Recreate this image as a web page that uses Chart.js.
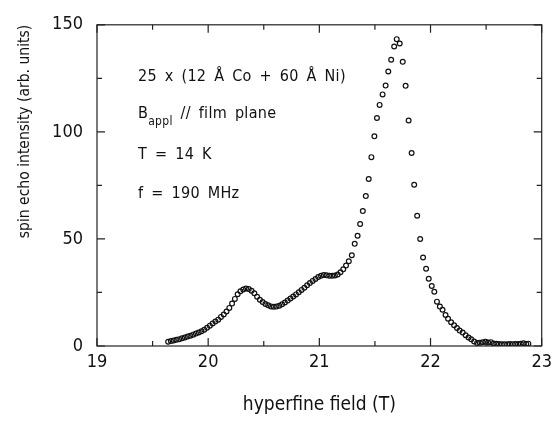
<!DOCTYPE html>
<html>
<head>
<meta charset="utf-8">
<script src="https://cdn.jsdelivr.net/npm/chart.js@4.4.1/dist/chart.umd.min.js"></script>
<style>
  html, body { margin: 0; padding: 0; background: #fff; }
  #wrap { width: 558px; height: 422px; }
</style>
</head>
<body>
<div id="wrap"><canvas id="nmrChart"></canvas></div>
<script>
// hyperfine field (T)
const field = [
  19.640, 19.665, 19.690, 19.715, 19.740, 19.765, 19.790, 19.815, 19.840, 19.865,
  19.890, 19.915, 19.940, 19.965, 19.990, 20.015, 20.040, 20.065, 20.090, 20.115,
  20.140, 20.165, 20.190, 20.215, 20.240, 20.265, 20.290, 20.315, 20.340, 20.365,
  20.390, 20.415, 20.440, 20.465, 20.490, 20.515, 20.540, 20.565, 20.590, 20.615,
  20.640, 20.665, 20.690, 20.715, 20.740, 20.765, 20.790, 20.815, 20.840, 20.865,
  20.890, 20.915, 20.940, 20.965, 20.990, 21.015, 21.040, 21.065, 21.090, 21.115,
  21.140, 21.165, 21.190, 21.215, 21.240, 21.265, 21.292, 21.318, 21.344, 21.367,
  21.391, 21.418, 21.444, 21.468, 21.495, 21.518, 21.542, 21.569, 21.596, 21.620,
  21.646, 21.673, 21.696, 21.723, 21.750, 21.776, 21.803, 21.830, 21.853, 21.880,
  21.907, 21.933, 21.960, 21.984, 22.011, 22.034, 22.058, 22.084, 22.108, 22.135,
  22.158, 22.185, 22.212, 22.238, 22.262, 22.289, 22.316, 22.342, 22.366, 22.392,
  22.419, 22.444, 22.469, 22.494, 22.518, 22.543, 22.567, 22.592, 22.616, 22.641,
  22.665, 22.690, 22.714, 22.739, 22.763, 22.788, 22.812, 22.837, 22.861, 22.880
];
// spin echo intensity (arb. units)
const intensity = [
  2.0, 2.3, 2.6, 2.9, 3.2, 3.6, 4.0, 4.4, 4.8, 5.3,
  5.8, 6.3, 6.9, 7.6, 8.5, 9.5, 10.5, 11.4, 12.3, 13.6,
  14.7, 16.1, 17.8, 19.8, 22.0, 24.2, 25.6, 26.4, 26.8, 26.6,
  25.8, 24.6, 23.0, 21.6, 20.5, 19.6, 19.0, 18.5, 18.3, 18.4,
  18.8, 19.5, 20.3, 21.2, 22.2, 23.1, 24.1, 25.1, 26.2, 27.2,
  28.4, 29.4, 30.4, 31.3, 32.2, 32.8, 33.1, 33.0, 32.8, 32.8,
  32.9, 33.4, 34.4, 35.8, 37.6, 39.6, 42.4, 47.7, 51.5, 57.0,
  63.0, 70.0, 78.0, 88.2, 97.9, 106.5, 112.6, 117.5, 121.6, 128.2,
  133.7, 139.9, 143.3, 141.3, 132.7, 121.5, 105.3, 90.1, 75.3, 60.8,
  50.0, 41.3, 36.1, 31.4, 28.0, 25.3, 20.7, 18.4, 16.9, 14.5,
  12.7, 11.1, 9.7, 8.4, 7.2, 6.3, 5.0, 4.0, 3.1, 2.1,
  1.4, 1.5, 1.7, 2.0, 1.6, 1.8, 1.2, 1.0, 0.9, 0.8,
  0.8, 0.8, 0.9, 0.8, 0.9, 0.9, 1.0, 1.3, 0.9, 1.1
];

const xMajor = [19, 20, 21, 22, 23];
const xMinor = [19.5, 20.5, 21.5, 22.5];
const yMajor = [0, 50, 100, 150];
const yMinor = [25, 75, 125];

const notes = [
  { text: '25 x (12 Å Co + 60 Å Ni)' },
  { text: 'B', sub: 'appl', rest: ' // film plane' },
  { text: 'T = 14 K' },
  { text: 'f = 190 MHz' }
];

const FONT = "'DejaVu Sans Condensed', 'Liberation Sans', sans-serif";

const points = field.map((f, i) => ({ x: f, y: intensity[i] }));

// frame, inward ticks on all four sides, and the text block
const framePlugin = {
  id: 'frame',
  afterDraw(chart) {
    const { ctx, chartArea: a, scales: { x, y } } = chart;
    ctx.save();
    ctx.strokeStyle = '#222';
    ctx.lineWidth = 1.2;
    ctx.strokeRect(a.left, a.top, a.right - a.left, a.bottom - a.top);
    ctx.beginPath();
    const xt = (v, len) => {
      const px = x.getPixelForValue(v);
      ctx.moveTo(px, a.bottom); ctx.lineTo(px, a.bottom - len);
      ctx.moveTo(px, a.top); ctx.lineTo(px, a.top + len);
    };
    const yt = (v, len) => {
      const py = y.getPixelForValue(v);
      ctx.moveTo(a.left, py); ctx.lineTo(a.left + len, py);
      ctx.moveTo(a.right, py); ctx.lineTo(a.right - len, py);
    };
    xMajor.forEach(v => xt(v, 8));
    xMinor.forEach(v => xt(v, 5));
    yMajor.forEach(v => yt(v, 8));
    yMinor.forEach(v => yt(v, 5));
    ctx.stroke();

    // annotation
    ctx.fillStyle = '#111';
    ctx.textBaseline = 'alphabetic';
    ctx.letterSpacing = '0.3px';
    ctx.wordSpacing = '3px';
    const left = a.left + 41;
    const base = [a.top + 56, a.top + 93, a.top + 134, a.top + 173];
    notes.forEach((n, i) => {
      ctx.font = '16px ' + FONT;
      ctx.fillText(n.text, left, base[i]);
      if (n.sub) {
        let w = ctx.measureText(n.text).width;
        ctx.font = '12px ' + FONT;
        ctx.fillText(n.sub, left + w, base[i] + 7);
        w += ctx.measureText(n.sub).width;
        ctx.font = '16px ' + FONT;
        ctx.fillText(n.rest, left + w, base[i]);
      }
    });
    ctx.restore();
  }
};

new Chart(document.getElementById('nmrChart'), {
  type: 'scatter',
  data: {
    datasets: [{
      data: points,
      pointStyle: 'circle',
      pointRadius: 2.4,
      pointBorderWidth: 1.2,
      pointBorderColor: '#111',
      pointBackgroundColor: 'rgba(0,0,0,0)',
      showLine: false
    }]
  },
  options: {
    responsive: true,
    maintainAspectRatio: false,
    animation: false,
    layout: { padding: { left: 0, right: 11, top: 18, bottom: 0 } },
    plugins: { legend: { display: false }, tooltip: { enabled: false } },
    scales: {
      x: {
        type: 'linear',
        min: 19, max: 23,
        afterFit: s => { s.height = 76; },
        grid: { display: false, drawTicks: false },
        border: { display: false },
        ticks: {
          stepSize: 1, padding: 6, color: '#111',
          font: { family: FONT, size: 18 }
        },
        title: {
          display: true, text: 'hyperfine field (T)', color: '#111',
          font: { family: FONT, size: 19 }, padding: { top: 0, bottom: 6 }
        }
      },
      y: {
        type: 'linear',
        min: 0, max: 150,
        afterFit: s => { s.width = 97; },
        grid: { display: false, drawTicks: false },
        border: { display: false },
        ticks: {
          stepSize: 50, padding: 14, color: '#111',
          font: { family: FONT, size: 18 }
        },
        title: {
          display: true, text: 'spin echo intensity (arb. units)', color: '#111',
          align: 'end',
          font: { family: FONT, size: 15.5 }, padding: { top: 16, bottom: 0 }
        }
      }
    }
  },
  plugins: [framePlugin]
});
</script>
</body>
</html>
